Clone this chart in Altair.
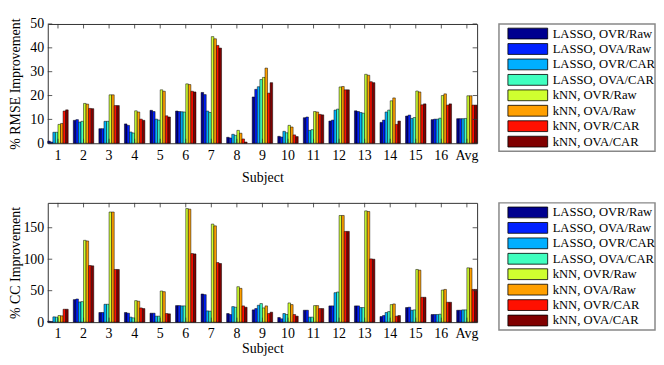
import altair as alt
import pandas as pd

FONT = "Liberation Serif"

subjects = [str(i) for i in range(1, 17)] + ["Avg"]
series = ["LASSO, OVR/Raw", "LASSO, OVA/Raw", "LASSO, OVR/CAR", "LASSO, OVA/CAR",
          "kNN, OVR/Raw", "kNN, OVA/Raw", "kNN, OVR/CAR", "kNN, OVA/CAR"]
colors = ["#00008F", "#0020FF", "#00AFFF", "#40FFBF", "#CFFF30", "#FF9F00", "#FF1000", "#800000"]

# % RMSE improvement, one list per series (subjects 1..16, Avg)
rmse_lasso_ovr_raw = [0.9, 9.6, 6.1, 8.1, 13.8, 13.5, 21.3, 2.5, 19.4, 2.9, 10.7, 9.3, 13.6, 8.75, 11.4, 9.9, 10.3]
rmse_lasso_ova_raw = [0.5, 9.9, 6.1, 7.5, 13.3, 13.3, 20.4, 2.2, 22.6, 2.6, 11.0, 9.7, 13.3, 9.7, 11.8, 10.1, 10.3]
rmse_lasso_ovr_car = [4.6, 8.9, 9.2, 4.7, 10.1, 13.2, 13.5, 3.75, 23.7, 5.0, 5.4, 13.9, 12.9, 13.1, 10.4, 10.1, 10.3]
rmse_lasso_ova_car = [4.6, 9.2, 9.2, 4.3, 9.7, 13.1, 12.9, 3.3, 26.7, 4.4, 5.7, 14.3, 12.6, 13.9, 10.8, 10.5, 10.4]
rmse_knn_ovr_raw = [7.9, 16.7, 20.3, 13.6, 22.4, 24.9, 44.7, 5.4, 27.6, 7.5, 13.3, 23.6, 28.9, 17.8, 21.9, 20.0, 19.9]
rmse_knn_ova_raw = [8.3, 16.4, 20.3, 13.1, 21.8, 24.6, 43.8, 4.2, 31.5, 6.8, 13.1, 23.8, 28.5, 19.0, 21.5, 20.7, 19.9]
rmse_knn_ovr_car = [13.5, 14.6, 15.8, 10.1, 11.5, 21.8, 41.0, 1.8, 21.0, 3.5, 12.1, 22.4, 25.8, 7.9, 16.1, 16.0, 16.0]
rmse_knn_ova_car = [14.0, 14.5, 15.8, 9.6, 11.0, 21.5, 39.9, 0.5, 25.4, 2.8, 11.9, 22.4, 25.4, 9.3, 16.5, 16.5, 16.0]

# % CC improvement, one list per series
cc_lasso_ovr_raw = [1.5, 35.8, 15.3, 15.3, 14.2, 26.3, 44.7, 13.7, 19.5, 7.4, 18.9, 25.8, 25.8, 8.9, 23.2, 12.1, 18.9]
cc_lasso_ova_raw = [1.0, 36.8, 15.3, 14.2, 14.2, 26.3, 43.7, 12.1, 21.6, 5.3, 18.9, 25.8, 25.8, 10.5, 23.7, 12.1, 18.9]
cc_lasso_ovr_car = [8.4, 32.1, 28.4, 7.9, 9.5, 25.8, 17.9, 24.7, 26.8, 13.7, 7.9, 46.8, 23.2, 15.3, 18.9, 12.1, 19.5]
cc_lasso_ova_car = [7.9, 32.6, 28.4, 6.8, 9.5, 25.8, 17.4, 23.7, 29.5, 12.1, 7.9, 47.9, 23.2, 16.8, 19.5, 12.6, 19.5]
cc_knn_ovr_raw = [10.5, 130, 175, 34.2, 49.5, 180.5, 155.8, 56.3, 22.6, 30.5, 26.3, 169.5, 176.8, 27.9, 83.7, 51, 86.3]
cc_knn_ova_raw = [10.0, 129, 175, 33.2, 48.4, 179.5, 153, 53.7, 25.8, 27.9, 26.3, 169.5, 175.8, 28.9, 82.6, 52, 85.8]
cc_knn_ovr_car = [20.5, 90, 83.7, 22.6, 13.7, 109, 94.7, 25.8, 13.7, 12.1, 21.6, 144.2, 100.5, 9.5, 39.5, 31.6, 52]
cc_knn_ova_car = [20.5, 89.5, 83.7, 21.6, 13.2, 108.4, 93.2, 23.7, 15.8, 9.5, 21.6, 144.2, 100, 10.5, 39.5, 31.6, 52]

rmse_series = [rmse_lasso_ovr_raw, rmse_lasso_ova_raw, rmse_lasso_ovr_car, rmse_lasso_ova_car,
               rmse_knn_ovr_raw, rmse_knn_ova_raw, rmse_knn_ovr_car, rmse_knn_ova_car]
cc_series = [cc_lasso_ovr_raw, cc_lasso_ova_raw, cc_lasso_ovr_car, cc_lasso_ova_car,
             cc_knn_ovr_raw, cc_knn_ova_raw, cc_knn_ovr_car, cc_knn_ova_car]

rmse_ticks = [0, 10, 20, 30, 40, 50]
cc_ticks = [0, 50, 100, 150]

W, H = 432, 120
TICK = 4.5
AXIS_COLOR = "#333333"


def long_df(values):
    rows = []
    for si, s in enumerate(series):
        for gi, g in enumerate(subjects):
            rows.append({"Subject": g, "Series": s, "Value": values[si][gi]})
    return pd.DataFrame(rows)


def panel(values, ymax, yticks, ytitle, label_pad, title_pad):
    df = long_df(values)
    xscale = alt.Scale(paddingInner=0.2, paddingOuter=0.0)
    yscale = alt.Scale(domain=[0, ymax], nice=False, zero=True)
    xaxis = alt.Axis(title="Subject", labelAngle=0, ticks=False, domain=False,
                     labelPadding=label_pad, titlePadding=title_pad)
    yaxis = alt.Axis(values=yticks, title=ytitle, ticks=False, domain=False, grid=False,
                     labelPadding=4, minExtent=24, maxExtent=24, titlePadding=1)
    bars = alt.Chart(df).mark_bar(stroke="black", strokeWidth=0.5).encode(
        x=alt.X("Subject:N", sort=subjects, scale=xscale, axis=xaxis),
        xOffset=alt.XOffset("Series:N", sort=series,
                            scale=alt.Scale(paddingInner=0, paddingOuter=0)),
        y=alt.Y("Value:Q", scale=yscale, axis=yaxis),
        color=alt.Color("Series:N", sort=series, scale=alt.Scale(domain=series, range=colors),
                        legend=None),
    )
    xt = pd.DataFrame({"Subject": subjects})
    yt = pd.DataFrame({"t": yticks})
    xr = alt.X("Subject:N", sort=subjects, bandPosition=0.5, axis=xaxis)
    xticks_top = alt.Chart(xt).mark_rule(color=AXIS_COLOR, strokeWidth=0.8).encode(
        x=xr, y=alt.value(0), y2=alt.value(TICK))
    xticks_bot = alt.Chart(xt).mark_rule(color=AXIS_COLOR, strokeWidth=0.8).encode(
        x=xr, y=alt.value(H - TICK), y2=alt.value(H))
    yr = alt.Y("t:Q", axis=yaxis)
    yticks_l = alt.Chart(yt).mark_rule(color=AXIS_COLOR, strokeWidth=0.8).encode(
        y=yr, x=alt.value(0), x2=alt.value(TICK))
    yticks_r = alt.Chart(yt).mark_rule(color=AXIS_COLOR, strokeWidth=0.8).encode(
        y=yr, x=alt.value(W - TICK), x2=alt.value(W))
    return alt.layer(bars, xticks_top, xticks_bot, yticks_l, yticks_r).properties(width=W, height=H)


def legend_box():
    leg = pd.DataFrame({"Series": series})
    base = alt.Chart(leg).encode(
        y=alt.Y("Series:N", sort=series, axis=None,
                scale=alt.Scale(paddingInner=0.3, paddingOuter=0.27)))
    patches = base.mark_rect(stroke="black", strokeWidth=0.8).encode(
        x=alt.value(9), x2=alt.value(49),
        color=alt.Color("Series:N", sort=series, scale=alt.Scale(domain=series, range=colors),
                        legend=None))
    labels = base.mark_text(align="left", baseline="middle", font=FONT, fontSize=12.7,
                            color="black").encode(x=alt.value(54), text="Series:N")
    return alt.layer(patches, labels).properties(
        width=157, height=128, view=alt.ViewBackground(stroke="#888888", strokeWidth=1.5))


top = panel(rmse_series, 50, rmse_ticks, "% RMSE Improvement", 5, 8)
bottom = panel(cc_series, 189.5, cc_ticks, "% CC Improvement", 4, 2)

row1 = alt.hconcat(top, legend_box(), spacing=19)
row2 = alt.hconcat(bottom, legend_box(), spacing=19)

chart = alt.vconcat(row1, row2, spacing=17).properties(
    padding={"left": 0, "top": 7, "right": 0, "bottom": 0}
).configure(font=FONT).configure_view(
    stroke=AXIS_COLOR, strokeWidth=1
).configure_axis(
    labelFont=FONT, titleFont=FONT, labelFontSize=14, titleFontSize=14,
    labelColor="black", titleColor="black", titleFontWeight="normal"
)

chart.save("out.html", embed_options={"renderer": "svg", "actions": False})
